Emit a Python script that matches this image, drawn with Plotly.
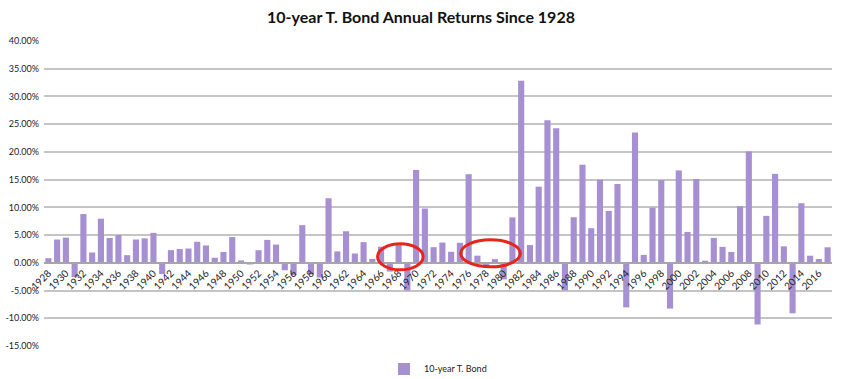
import plotly.graph_objects as go

years = list(range(1928, 2018))
returns = [0.84, 4.20, 4.54, -2.56, 8.79, 1.86, 7.96, 4.47, 5.02, 1.38,
           4.21, 4.41, 5.40, -2.02, 2.29, 2.49, 2.58, 3.80, 3.13, 0.92,
           1.95, 4.66, 0.43, -0.30, 2.27, 4.14, 3.29, -1.34, -2.26, 6.80,
           -2.10, -2.65, 11.64, 2.06, 5.69, 1.68, 3.73, 0.72, 2.91, -1.58,
           3.27, -5.01, 16.75, 9.79, 2.82, 3.66, 1.99, 3.61, 15.98, 1.29,
           -0.78, 0.67, -2.99, 8.20, 32.81, 3.20, 13.73, 25.71, 24.28, -4.96,
           8.22, 17.69, 6.24, 15.00, 9.36, 14.21, -8.04, 23.48, 1.43, 9.94,
           14.92, -8.25, 16.66, 5.57, 15.12, 0.38, 4.49, 2.87, 1.96, 10.21,
           20.10, -11.12, 8.46, 16.04, 2.97, -9.10, 10.75, 1.28, 0.69, 2.80]
tick_years = list(range(1928, 2018, 2))
tick_labels = [str(y) for y in tick_years]
y_ticks = [-15, -10, -5, 0, 5, 10, 15, 20, 25, 30, 35, 40]

ymin, ymax = -15, 40

fig = go.Figure()
fig.add_trace(go.Bar(
    x=years, y=returns, name="10-year T. Bond",
    marker=dict(color="#A690D2", line=dict(width=0)),
))

fig.update_layout(
    width=842, height=379,
    margin=dict(l=44, r=10, t=41, b=33, autoexpand=False),
    paper_bgcolor="white", plot_bgcolor="white",
    bargap=0.3,
    font=dict(family="Lato, Open Sans, sans-serif", color="#333"),
    title=dict(text="<b>10-year T. Bond Annual Returns Since 1928</b>",
               x=0.5, xanchor="center", y=0.955, yref="container", yanchor="middle",
               font=dict(size=16, color="#111"), automargin=False),
    showlegend=True,
    legend=dict(orientation="h", x=0.5, xanchor="center", y=-0.075, yanchor="middle",
                font=dict(size=9, color="#222"), bgcolor="rgba(0,0,0,0)"),
    xaxis=dict(range=[1927.5, 2017.5], tickmode="array", tickvals=tick_years,
               ticktext=tick_labels, tickangle=-45, tickfont=dict(size=10, color="#222"),
               showgrid=False, zeroline=False, showline=True, linecolor="#A6A6A6",
               linewidth=1.5, anchor="free", position=(0 - ymin) / (ymax - ymin),
               ticks="", automargin=False),
    yaxis=dict(range=[ymin, ymax], tickmode="array", tickvals=y_ticks,
               ticktext=[f"{v:.2f}%" for v in y_ticks], tickfont=dict(size=9, color="#222"),
               showgrid=True, gridcolor="#C4C4C4", gridwidth=2, zeroline=False,
               showline=False, ticks="", automargin=False, ticklabelstandoff=4),
    shapes=[
        dict(type="circle", xref="x", yref="y", x0=1965.6, x1=1970.8, y0=-1.26, y1=3.42,
             line=dict(color="#E8251B", width=3)),
        dict(type="circle", xref="x", yref="y", x0=1975.1, x1=1981.9, y0=-0.72, y1=4.14,
             line=dict(color="#E8251B", width=3)),
    ],
)

fig.write_html("out.html", config={"displayModeBar": False},
               post_script="document.body.style.margin='0';document.body.style.overflow='hidden';")
